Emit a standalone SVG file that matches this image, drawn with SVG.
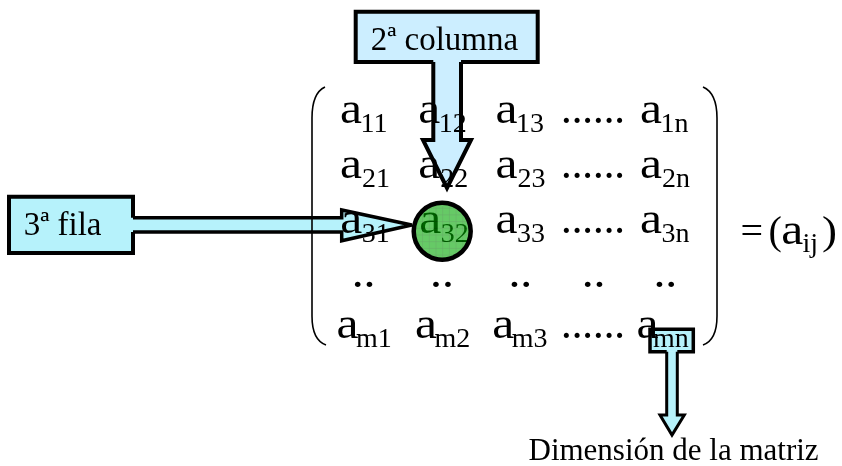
<svg xmlns="http://www.w3.org/2000/svg" width="842" height="466" viewBox="0 0 842 466">
<style>
text{font-family:"Liberation Serif","Times New Roman",serif;fill:#000}
.m{font-size:44px}
.s{font-size:28px}
.lbl{font-size:33px}
.paren{fill:none;stroke:#000;stroke-width:1.6}
.cf{mix-blend-mode:multiply;stroke:none}
.co{fill:none;stroke:#000;stroke-linejoin:miter}
.ca{mix-blend-mode:multiply;stroke:#000;stroke-linejoin:miter}
</style>
<defs>
<pattern id="grid" width="6.7" height="6.7" patternUnits="userSpaceOnUse">
<rect width="6.7" height="6.7" fill="#00a600"/>
<path d="M0,0H6.7M0,0V6.7" stroke="#006e00" stroke-width="0.9"/>
</pattern>
</defs>
<rect width="842" height="466" fill="#fff"/>

<g id="matrix">
<path class="paren" d="M325,87 Q312,93 312,118 V316 Q312,340 326,345"/>
<path class="paren" d="M703,87 Q717,93 717,118 V316 Q717,340 703,345"/>
<!-- row 1 -->
<text class="m" x="339.9" y="123.3" textLength="22" lengthAdjust="spacingAndGlyphs">a</text><text class="s" x="360.5" y="131.7">11</text>
<text class="m" x="418.2" y="123.3" textLength="22" lengthAdjust="spacingAndGlyphs">a</text><text class="s" x="438.8" y="131.7">12</text>
<text class="m" x="495.5" y="123.3" textLength="22" lengthAdjust="spacingAndGlyphs">a</text><text class="s" x="516.1" y="131.7">13</text>
<text class="m" x="561" y="123.3" textLength="64" lengthAdjust="spacingAndGlyphs">......</text>
<text class="m" x="639.9" y="123.3" textLength="22" lengthAdjust="spacingAndGlyphs">a</text><text class="s" x="660.5" y="131.7">1n</text>
<!-- row 2 -->
<text class="m" x="339.9" y="178.3" textLength="22" lengthAdjust="spacingAndGlyphs">a</text><text class="s" x="362" y="186.7">21</text>
<text class="m" x="418.2" y="178.3" textLength="22" lengthAdjust="spacingAndGlyphs">a</text><text class="s" x="440.3" y="186.7">22</text>
<text class="m" x="495.5" y="178.3" textLength="22" lengthAdjust="spacingAndGlyphs">a</text><text class="s" x="517.6" y="186.7">23</text>
<text class="m" x="561" y="178.3" textLength="64" lengthAdjust="spacingAndGlyphs">......</text>
<text class="m" x="639.9" y="178.3" textLength="22" lengthAdjust="spacingAndGlyphs">a</text><text class="s" x="662" y="186.7">2n</text>
<!-- row 3 -->
<text class="m" x="340.2" y="233.3" textLength="22" lengthAdjust="spacingAndGlyphs">a</text><text class="s" x="361.8" y="241.7">31</text>
<text class="m" x="419.2" y="233.3" textLength="22" lengthAdjust="spacingAndGlyphs">a</text><text class="s" x="440.8" y="241.7">32</text>
<text class="m" x="495.5" y="233.3" textLength="22" lengthAdjust="spacingAndGlyphs">a</text><text class="s" x="517.1" y="241.7">33</text>
<text class="m" x="561" y="233.3" textLength="64" lengthAdjust="spacingAndGlyphs">......</text>
<text class="m" x="639.9" y="233.3" textLength="22" lengthAdjust="spacingAndGlyphs">a</text><text class="s" x="661.5" y="241.7">3n</text>
<!-- row 4 -->
<text class="m" x="351.7" y="287" textLength="23.8" lengthAdjust="spacingAndGlyphs">..</text>
<text class="m" x="430" y="287" textLength="23.8" lengthAdjust="spacingAndGlyphs">..</text>
<text class="m" x="508.4" y="287" textLength="23.8" lengthAdjust="spacingAndGlyphs">..</text>
<text class="m" x="581.7" y="287" textLength="23.8" lengthAdjust="spacingAndGlyphs">..</text>
<text class="m" x="653.4" y="287" textLength="23.8" lengthAdjust="spacingAndGlyphs">..</text>
<!-- row 5 -->
<text class="m" x="336.5" y="338.3" textLength="22" lengthAdjust="spacingAndGlyphs">a</text><text class="s" x="356" y="346.7">m1</text>
<text class="m" x="414.9" y="338.3" textLength="22" lengthAdjust="spacingAndGlyphs">a</text><text class="s" x="434.4" y="346.7">m2</text>
<text class="m" x="492.2" y="338.3" textLength="22" lengthAdjust="spacingAndGlyphs">a</text><text class="s" x="511.7" y="346.7">m3</text>
<text class="m" x="561" y="338.3" textLength="64" lengthAdjust="spacingAndGlyphs">......</text>
<text class="m" x="636.5" y="338.3" textLength="22" lengthAdjust="spacingAndGlyphs">a</text><text class="s" x="653" y="346.7">mn</text>
</g>

<g id="equals">
<text x="740.5" y="244" style="font-size:40px">=</text>
<text x="768.5" y="244" style="font-size:40px">(</text>
<text class="m" x="781.2" y="244" textLength="22" lengthAdjust="spacingAndGlyphs">a</text>
<text class="s" x="802.5" y="252">ij</text>
<text x="822" y="244" style="font-size:40px" textLength="15" lengthAdjust="spacingAndGlyphs">)</text>
</g>

<g id="circle-a32">
<circle cx="442.2" cy="231.2" r="28.5" fill="url(#grid)" fill-opacity="0.6" stroke="#000" stroke-width="4.5"/>
</g>

<g id="callout-columna">
<rect class="cf" x="355.7" y="11.7" width="182" height="50.3" fill="#cceeff"/>
<path class="co" d="M433.3,62 H355.7 V11.7 H537.7 V62 H461" stroke-width="4"/>
<text class="lbl" x="370.7" y="50">2ª columna</text>
</g>

<g id="callout-fila">
<rect class="cf" x="9" y="196.7" width="124" height="56.3" fill="#b6f2fb"/>
<path class="co" d="M133,217.7 V196.7 H9 V253 H133 V232" stroke-width="4"/>
<text class="lbl" x="23.7" y="235">3ª fila</text>
</g>

<g id="callout-dimension">
<rect class="cf" x="650" y="329.3" width="43.3" height="22.4" fill="#b6f2fb"/>
<path class="co" d="M666.7,351.7 H650 V329.3 H693.3 V351.7 H677.3" stroke-width="3.5"/>
</g>

<g id="connectors">
<path class="ca" d="M433.3,62 V140 H423 L447,188 L471,140 H461 V62" fill="#cceeff" stroke-width="4"/>
<path class="ca" d="M133,217.7 H341.7 V210 L411.7,225 L341.7,240.7 V232 H133" fill="#b6f2fb" stroke-width="3.5"/>
<path class="ca" d="M666.7,351.7 V415 H660 L672,435 L684.3,415 H677.3 V351.7" fill="#b6f2fb" stroke-width="3"/>
</g>

<g id="label-dimension">
<text x="528.5" y="460" style="font-size:31px">Dimensión de la matriz</text>
</g>
</svg>
